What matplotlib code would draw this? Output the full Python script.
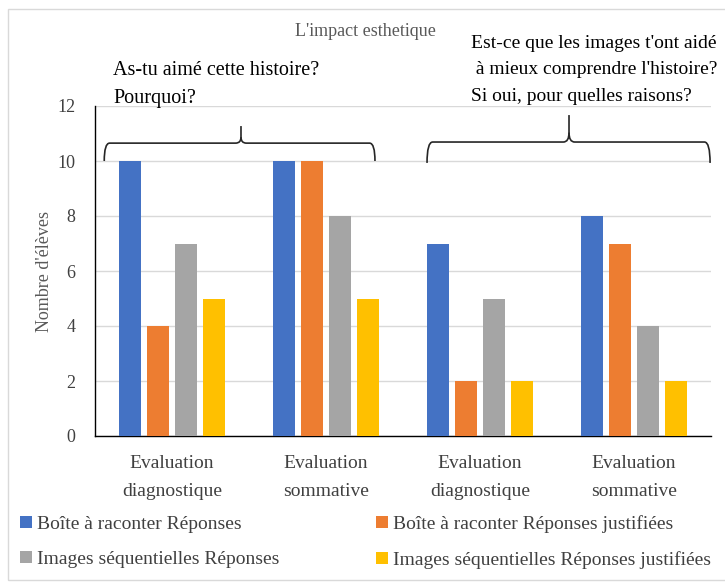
import matplotlib
matplotlib.use("Agg")
import matplotlib.pyplot as plt
from matplotlib.path import Path
from matplotlib.patches import PathPatch, Rectangle
import numpy as np

categories = ["Evaluation\ndiagnostique", "Evaluation\nsommative",
              "Evaluation\ndiagnostique", "Evaluation\nsommative"]
series_names = ["Boîte à raconter Réponses",
                "Boîte à raconter Réponses justifiées",
                "Images séquentielles Réponses",
                "Images séquentielles Réponses justifiées"]
boite_reponses = [10, 10, 7, 8]
boite_justifiees = [4, 10, 2, 7]
images_reponses = [7, 8, 5, 4]
images_justifiees = [5, 5, 2, 2]
colors = ["#4472C4", "#ED7D31", "#A5A5A5", "#FFC000"]
yticks = [0, 2, 4, 6, 8, 10, 12]

plt.rcParams['font.family'] = ['Liberation Serif', 'DejaVu Serif']

W, H = 725, 583
fig = plt.figure(figsize=(W / 100, H / 100), dpi=100)
def fx(px): return px / W
def fy(py): return 1 - py / H

# outer frame
fig.patches.append(Rectangle((fx(8), fy(580)), fx(760), fy(9) - fy(580),
                             transform=fig.transFigure, fill=False,
                             edgecolor="#D9D9D9", lw=1.0))

ax = fig.add_axes([fx(95), fy(436), fx(711) - fx(95), fy(106) - fy(436)])
x = np.arange(len(categories))
step = 0.182
width = 0.143
all_series = [boite_reponses, boite_justifiees, images_reponses, images_justifiees]
handles = []
for i, (vals, c, name) in enumerate(zip(all_series, colors, series_names)):
    b = ax.bar(x + (i - 1.5) * step, vals, width=width, color=c, label=name, zorder=3)
    handles.append(b)

ax.set_xlim(-0.5, 3.5)
ax.set_ylim(0, 12)
ax.set_yticks(yticks)
ax.set_yticklabels([str(t) for t in yticks], fontsize=13, color="#404040")
ax.set_xticks(x)
ax.set_xticklabels(categories, fontsize=14, color="#404040", linespacing=1.78)
ax.tick_params(axis='both', length=0)
ax.tick_params(axis='y', pad=14)
ax.tick_params(axis='x', pad=14)
ax.grid(axis='y', color="#D9D9D9", lw=1.0, zorder=0)
for s in ["top", "right"]:
    ax.spines[s].set_visible(False)
ax.spines["left"].set_color("black")
ax.spines["bottom"].set_color("black")
ax.spines["left"].set_linewidth(1.0)
ax.spines["bottom"].set_linewidth(1.0)
ax.set_ylabel("Nombre d'élèves", fontsize=13, color="#595959", labelpad=3)

def brace(x0, x1, xt, yh, yend, ytip):
    d = (x1 - x0) * 0.02
    verts = [(x0, yend), (x0, yh), (x0 + d, yh),
             (xt - d, yh), (xt, yh), (xt, yh + (ytip - yh) * 0.35),
             (xt, ytip)]
    codes = [Path.MOVETO, Path.CURVE3, Path.CURVE3,
             Path.LINETO, Path.CURVE3, Path.CURVE3, Path.LINETO]
    verts2 = [(x1, yend), (x1, yh), (x1 - d, yh),
              (xt + d, yh), (xt, yh), (xt, yh + (ytip - yh) * 0.35)]
    codes2 = [Path.MOVETO, Path.CURVE3, Path.CURVE3,
              Path.LINETO, Path.CURVE3, Path.CURVE3]
    for v, c in ((verts, codes), (verts2, codes2)):
        ax.add_patch(PathPatch(Path(v, c), fill=False, edgecolor="#262626",
                               lw=1.2, clip_on=False, zorder=5))

brace(-0.44, 1.318, 0.448, 10.65, 10.0, 11.27)
brace(1.656, 3.494, 2.578, 10.69, 9.93, 11.67)

fig.text(fx(365), fy(32), "L'impact esthetique", fontsize=13, color="#595959",
         ha="center", va="center")
fig.text(fx(113), fy(84.5), "As-tu aimé cette histoire?\nPourquoi?", fontsize=14.5,
         color="black", ha="left", va="center", linespacing=1.62)
fig.text(fx(471), fy(70), "Est-ce que les images t'ont aidé\n à mieux comprendre l'histoire?\nSi oui, pour quelles raisons?",
         fontsize=14, color="black", ha="left", va="center", linespacing=1.73)

order = [0, 2, 1, 3]
leg = fig.legend([handles[i] for i in order], [series_names[i] for i in order],
                 ncol=2, loc="upper left", bbox_to_anchor=(fx(20), fy(515)),
                 frameon=False, fontsize=14, handlelength=0.6, handleheight=0.6,
                 handletextpad=0.25, columnspacing=5.0, labelspacing=0.92,
                 borderpad=0, borderaxespad=0)
for t in leg.get_texts():
    t.set_color("#404040")

fig.savefig("out.png", dpi=100)
